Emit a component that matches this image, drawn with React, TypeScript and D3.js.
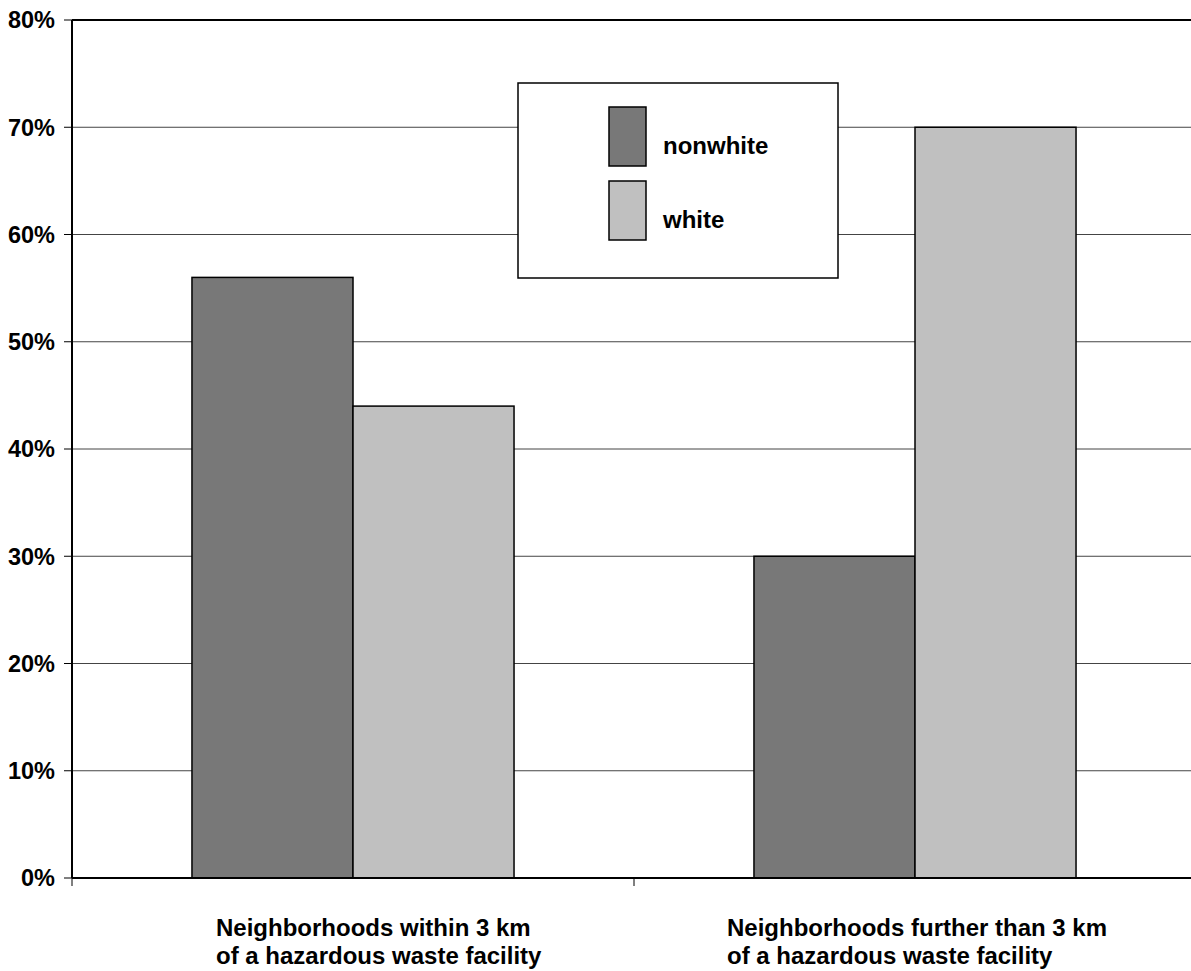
import React from "react";
import * as d3 from "d3";

// chart data
const categories = [
  ["Neighborhoods within 3 km", "of a hazardous waste facility"],
  ["Neighborhoods further than 3 km", "of a hazardous waste facility"],
];
const seriesNames = ["nonwhite", "white"];
const nonwhite = [56, 30];
const white = [44, 70];
const yTicks = [0, 10, 20, 30, 40, 50, 60, 70, 80];

const colors = ["#787878", "#C0C0C0"];
const font = "'Liberation Sans', Arial, sans-serif";

export default function App() {
  const W = 1191;
  const H = 971;
  const margin = { top: 20, left: 72, right: -5, bottom: 93 };
  const plotW = W - margin.left - margin.right;
  const plotH = H - margin.top - margin.bottom;

  const x0 = d3
    .scaleBand<number>()
    .domain(categories.map((_, i) => i))
    .range([0, plotW])
    .padding(0);

  const x1 = d3
    .scaleBand<string>()
    .domain(seriesNames)
    .range([0, x0.bandwidth()])
    .paddingInner(0)
    .paddingOuter(0.745);

  const y = d3.scaleLinear().domain([0, 80]).range([plotH, 0]);

  const values = [nonwhite, white];
  // left edge of each two-line label, relative to the band centre
  const labelShift = [-137, -188];

  return (
    <svg
      width={W}
      height={H}
      style={{ position: "absolute", left: 0, top: 0, background: "#fff" }}
      fontFamily={font}
    >
      <g transform={`translate(${margin.left},${margin.top})`}>
        {/* gridlines + y ticks */}
        {yTicks.map((t) => (
          <g key={t} transform={`translate(0,${y(t)})`}>
            {t > 0 && t < 80 && (
              <line x1={0} x2={plotW} stroke="#444" strokeWidth={1} />
            )}
            <line x1={-8} x2={0} stroke="#000" strokeWidth={1} />
            <text
              x={-17}
              dy="0.36em"
              textAnchor="end"
              fontSize={23.5}
              fontWeight="bold"
            >
              {t}%
            </text>
          </g>
        ))}
        <line x1={0} x2={plotW} y1={0} y2={0} stroke="#000" strokeWidth={2} />

        {/* bars */}
        {categories.map((_, ci) => (
          <g key={ci} transform={`translate(${x0(ci)},0)`}>
            {seriesNames.map((s, si) => (
              <rect
                key={s}
                x={x1(s)}
                y={y(values[si][ci])}
                width={x1.bandwidth()}
                height={plotH - y(values[si][ci])}
                fill={colors[si]}
                stroke="#000"
                strokeWidth={1.5}
              />
            ))}
          </g>
        ))}

        {/* axes */}
        <line x1={0} x2={0} y1={0} y2={plotH} stroke="#000" strokeWidth={2} />
        <line x1={0} x2={plotW} y1={plotH} y2={plotH} stroke="#000" strokeWidth={2} />
        {d3.range(categories.length + 1).map((i) => (
          <line
            key={i}
            x1={i * x0.step()}
            x2={i * x0.step()}
            y1={plotH}
            y2={plotH + 8}
            stroke="#000"
            strokeWidth={1}
          />
        ))}

        {/* category labels */}
        {categories.map((lines, ci) => {
          const cx = (x0(ci) as number) + x0.bandwidth() / 2;
          return (
            <text
              key={ci}
              x={cx + labelShift[ci]}
              y={plotH + 58}
              fontSize={24}
              fontWeight="bold"
            >
              {lines.map((l, li) => (
                <tspan key={li} x={cx + labelShift[ci]} dy={li === 0 ? 0 : 28}>
                  {l}
                </tspan>
              ))}
            </text>
          );
        })}
      </g>

      {/* legend */}
      <g transform="translate(518,83)">
        <rect width={320} height={195} fill="#fff" stroke="#000" strokeWidth={1.5} />
        {seriesNames.map((s, si) => (
          <g key={s} transform={`translate(91,${24 + si * 74})`}>
            <rect width={37} height={59} fill={colors[si]} stroke="#000" strokeWidth={1.5} />
            <text x={54} y={47} fontSize={24} fontWeight="bold">
              {s}
            </text>
          </g>
        ))}
      </g>
    </svg>
  );
}
